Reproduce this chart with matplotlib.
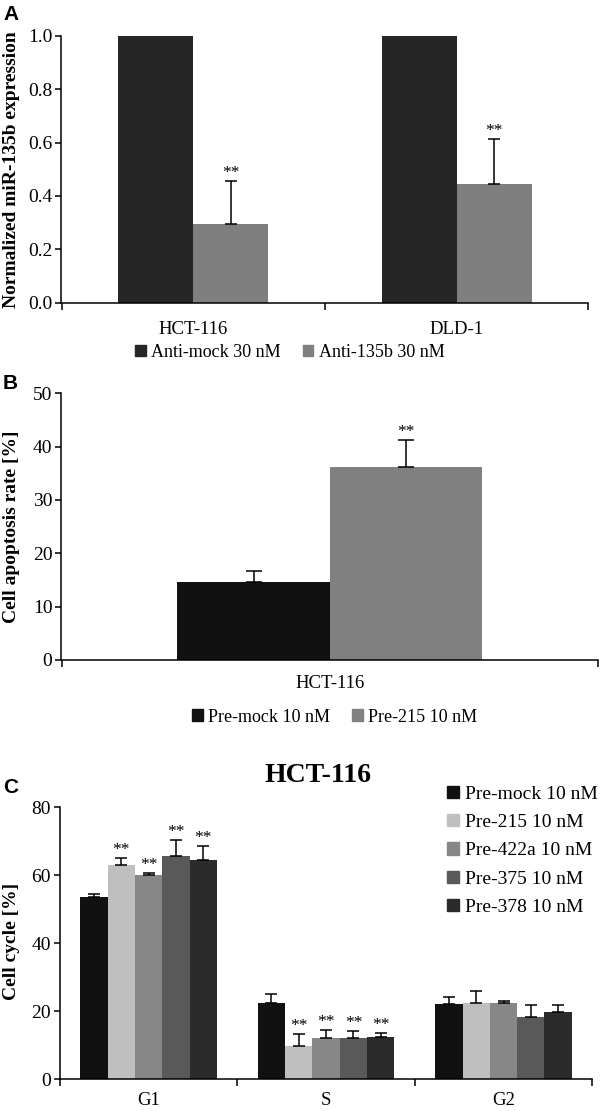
import numpy as np
import matplotlib
matplotlib.use("Agg")
import matplotlib.pyplot as plt
from matplotlib.patches import Rectangle

plt.rcParams['font.family'] = ['Liberation Serif', 'DejaVu Serif']

### data
# panel A
a_cells = ['HCT-116', 'DLD-1']
a_series = ['Anti-mock 30 nM', 'Anti-135b 30 nM']
a_mock = [1.0, 1.0]
a_anti = [0.295, 0.445]
a_anti_err = [0.16, 0.17]
a_colors = ['#262626', '#7f7f7f']

# panel B
b_cells = ['HCT-116']
b_series = ['Pre-mock 10 nM', 'Pre-215 10 nM']
b_mock = [14.6]
b_mock_err = [2.1]
b_pre215 = [36.1]
b_pre215_err = [5.1]
b_colors = ['#111111', '#808080']

# panel C
c_phases = ['G1', 'S', 'G2']
c_series = ['Pre-mock 10 nM', 'Pre-215 10 nM', 'Pre-422a 10 nM', 'Pre-375 10 nM', 'Pre-378 10 nM']
c_values = [
  [53.7, 22.5, 22.2],   # pre-mock
  [63.0, 9.8, 22.5],    # pre-215
  [60.0, 12.1, 22.4],   # pre-422a
  [65.8, 12.1, 18.2],   # pre-375
  [64.4, 12.4, 19.8],   # pre-378
]
c_errors = [
  [0.8, 2.5, 1.9],
  [2.0, 3.6, 3.5],
  [0.7, 2.3, 0.6],
  [4.5, 2.2, 3.7],
  [4.3, 1.2, 2.1],
]
c_stars = [
  [False, False, False],
  [True, True, False],
  [True, True, False],
  [True, True, False],
  [True, True, False],
]
c_colors = ['#111111', '#bfbfbf', '#878787', '#595959', '#2b2b2b']


def style_axes(ax, ncat, pad=12):
  for s in ['top', 'right']:
    ax.spines[s].set_visible(False)
  for s in ['left', 'bottom']:
    ax.spines[s].set_linewidth(1.1)
  ax.set_xlim(-0.5, ncat - 0.5)
  ax.set_xticks(range(ncat))
  ax.set_xticks(np.arange(ncat + 1) - 0.5, minor=True)
  ax.tick_params(axis='x', which='major', length=0, pad=pad, labelsize=13.5)
  ax.tick_params(axis='x', which='minor', length=5, width=1.1, direction='out')
  ax.tick_params(axis='y', length=4.5, width=1.1, direction='out', pad=2, labelsize=14)


def stars(ax, x, y):
  ax.annotate('**', (x, y), xytext=(0, 0), textcoords='offset points',
              ha='center', va='bottom', fontsize=12.5)


def square_legend(ax, colors, labels, fs=13, **kw):
  handles = [Rectangle((0, 0), 1, 1, color=c) for c in colors]
  return ax.legend(handles, labels, frameon=False, fontsize=fs,
                   handlelength=0.6, handleheight=0.6, handletextpad=0.3, **kw)


fig = plt.figure(figsize=(6, 11.11), dpi=100)

### A
ax = fig.add_axes([0.1025, 0.7276, 0.878, 0.24])
x = np.arange(len(a_cells))
w = 0.285
ax.bar(x - w/2, a_mock, w, color=a_colors[0])
ax.bar(x + w/2, a_anti, w, color=a_colors[1])
ax.errorbar(x + w/2, a_anti, yerr=[np.zeros(len(a_anti)), a_anti_err], fmt='none',
            ecolor='black', elinewidth=1.1, capsize=4, capthick=1.1)
for i in range(len(a_cells)):
  stars(ax, x[i] + w/2, a_anti[i] + a_anti_err[i])
ax.set_ylim(0, 1.0)
ax.set_yticks(np.arange(0, 1.01, 0.2))
ax.set_yticklabels(['%.1f' % v for v in np.arange(0, 1.01, 0.2)])
ax.set_xticklabels(a_cells)
style_axes(ax, len(a_cells), pad=13)
square_legend(ax, a_colors, a_series, ncol=2, loc='center',
              bbox_to_anchor=(0.483, 0.683), bbox_transform=fig.transFigure,
              columnspacing=1.2)
fig.text(0.02, 0.8476, 'Normalized miR-135b expression', rotation=90, ha='center',
         va='center', fontsize=14, fontweight='bold')
fig.text(0.005, 0.987, 'A', family='Liberation Sans', fontweight='bold', fontsize=15,
         va='center')

### B
ax = fig.add_axes([0.1025, 0.406, 0.894, 0.24])
x = np.arange(len(b_cells))
w = 0.284
ax.bar(x - w/2, b_mock, w, color=b_colors[0])
ax.bar(x + w/2, b_pre215, w, color=b_colors[1])
ax.errorbar(x - w/2, b_mock, yerr=[[0] * len(b_mock), b_mock_err], fmt='none',
            ecolor='black', elinewidth=1.1, capsize=6, capthick=1.1)
ax.errorbar(x + w/2, b_pre215, yerr=[[0] * len(b_pre215), b_pre215_err], fmt='none',
            ecolor='black', elinewidth=1.1, capsize=6, capthick=1.1)
stars(ax, x[0] + w/2, b_pre215[0] + b_pre215_err[0])
ax.set_ylim(0, 50)
ax.set_yticks(range(0, 51, 10))
ax.set_xticklabels(b_cells)
style_axes(ax, len(b_cells), pad=11)
square_legend(ax, b_colors, b_series, ncol=2, loc='center',
              bbox_to_anchor=(0.558, 0.3546), bbox_transform=fig.transFigure,
              columnspacing=1.2)
fig.text(0.02, 0.526, 'Cell apoptosis rate [%]', rotation=90, ha='center',
         va='center', fontsize=14, fontweight='bold')
fig.text(0.005, 0.655, 'B', family='Liberation Sans', fontweight='bold', fontsize=15,
         va='center')

### C
ax = fig.add_axes([0.1, 0.0285, 0.887, 0.2449])
x = np.arange(len(c_phases))
w = 0.154
for i in range(len(c_series)):
  xi = x + (i - 2) * w
  ax.bar(xi, c_values[i], w, color=c_colors[i])
  ax.errorbar(xi, c_values[i], yerr=[[0] * len(c_phases), c_errors[i]], fmt='none',
              ecolor='black', elinewidth=1.1, capsize=4, capthick=1.1)
  for j in range(len(c_phases)):
    if c_stars[i][j]:
      stars(ax, xi[j], c_values[i][j] + c_errors[i][j])
ax.set_ylim(0, 80)
ax.set_yticks(range(0, 81, 20))
ax.set_xticklabels(c_phases)
style_axes(ax, len(c_phases), pad=9)
square_legend(ax, c_colors, c_series, fs=14, loc='upper left',
              bbox_to_anchor=(0.716, 0.3085), bbox_transform=fig.transFigure,
              labelspacing=0.58)
ax.set_title('HCT-116', fontsize=20, fontweight='bold', x=0.485, pad=18)
fig.text(0.02, 0.153, 'Cell cycle [%]', rotation=90, ha='center',
         va='center', fontsize=14, fontweight='bold')
fig.text(0.005, 0.291, 'C', family='Liberation Sans', fontweight='bold', fontsize=15,
         va='center')

plt.savefig('out.png', dpi=100)
